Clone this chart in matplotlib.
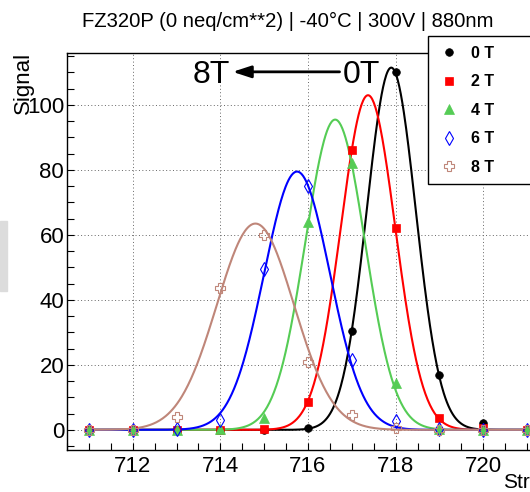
import numpy as np
import matplotlib
matplotlib.use("Agg")
import matplotlib.pyplot as plt
from matplotlib.patches import Rectangle

plt.rcParams['font.family'] = ['Liberation Sans', 'DejaVu Sans']

# strip positions and measured signal per field
strips = [711, 712, 713, 714, 715, 716, 717, 718, 719, 720, 721]
sig_0T = [0, 0, 0, 0, 0, 0.7, 30.3, 110, 17, 2, 0]
sig_2T = [0, 0, 0, 0, 0.3, 8.7, 86, 62, 3.7, 0.6, 0]
sig_4T = [0, 0, 0, 0.2, 3.8, 64, 82, 14.5, 0.3, 0, 0]
sig_6T = [0, 0, 0.3, 3, 49.5, 75, 21.6, 2.6, 0.3, 0, 0]
sig_8T = [0, 0, 4, 43.7, 60, 21, 4.7, 0.5, 0, 0, 0]

# gaussian fit parameters (amplitude, mean, sigma)
fit_amp = [111.5, 103, 95.5, 79.5, 63.5]
fit_mean = [717.9, 717.37, 716.62, 715.75, 714.8]
fit_sigma = [0.56, 0.62, 0.68, 0.75, 0.88]

labels = ["0 T", "2 T", "4 T", "6 T", "8 T"]
colors = ["black", "#ff0000", "#55cc55", "#0000ff", "#bf8679"]
markers = ["o", "s", "^", "d", "P"]
msizes = [5.5, 5.5, 6.5, 7, 7.5]
filled = [True, True, True, False, False]

title = "FZ320P (0 neq/cm**2) | -40\u00b0C | 300V | 880nm"

W, H = 530, 492
fig = plt.figure(figsize=(W / 100, H / 100), dpi=100)
ax = fig.add_axes([67 / W, 42 / H, (549 - 67) / W, 397 / H])

series = [sig_0T, sig_2T, sig_4T, sig_6T, sig_8T]
xf = np.linspace(711, 721.5, 600)
handles = []
for i, ys in enumerate(series):
    yf = fit_amp[i] * np.exp(-0.5 * ((xf - fit_mean[i]) / fit_sigma[i]) ** 2)
    ax.plot(xf, yf, color=colors[i], lw=1.5, zorder=3)
for i, ys in enumerate(series):
    mfc = colors[i] if filled[i] else "none"
    h, = ax.plot(strips, ys, ls="none", marker=markers[i], ms=msizes[i],
                 mfc=mfc, mec=colors[i], mew=0.8 if not filled[i] else 0.5,
                 color=colors[i], zorder=4, label=labels[i])
    handles.append(h)

ax.set_xlim(710.5, 721.5)
ax.set_ylim(-6.2, 116)
ax.set_xticks(np.arange(712, 722, 2))
ax.set_xticks(np.arange(710.5, 721.6, 0.5), minor=True)
ax.set_yticks(np.arange(0, 101, 20))
ax.set_yticks(np.arange(-5, 116, 5), minor=True)
ax.tick_params(which="both", direction="in", length=5, width=0.8,
               top=False, right=False, labelsize=16)
ax.tick_params(axis="x", pad=4)
ax.tick_params(axis="y", pad=2)
ax.grid(True, which="major", color="#666666", ls=(0, (1, 2.5)), lw=0.7)
ax.set_axisbelow(True)
for sp in ax.spines.values():
    sp.set_linewidth(1.0)

# 8T <- 0T annotation
ax.annotate("", xy=(714.28, 110.2), xytext=(716.72, 110.2),
            arrowprops=dict(arrowstyle="-|>,head_length=0.55,head_width=0.18",
                            color="black", lw=2, mutation_scale=20,
                            shrinkA=0, shrinkB=0))
ax.text(714.21, 106.8, "8T", fontsize=23, ha="right", va="baseline")
ax.text(716.79, 106.8, "0T", fontsize=23, ha="left", va="baseline")

leg = ax.legend(handles=handles, loc="upper left",
                bbox_to_anchor=(428 / W, 1 - 179 / H, 0.3, 143 / H),
                bbox_transform=fig.transFigure, mode="expand",
                prop={"weight": "bold", "size": 11.5},
                frameon=True, fancybox=False, framealpha=1,
                edgecolor="black", borderpad=0.6, handlelength=1.4,
                handletextpad=0.7, labelspacing=0.85, borderaxespad=0)
leg.get_frame().set_linewidth(1.0)
leg.set_zorder(10)

fig.text(82 / W, 1 - 27 / H, title, fontsize=14.6, va="baseline", ha="left")
fig.text(23 / W, 1 - 52 / H, "Signal", fontsize=16, rotation=90,
         ha="center", va="top")
fig.text(503 / W, 1 - 488 / H, "Strip", fontsize=15, ha="left", va="baseline")

fig.patches.append(Rectangle((0, 1 - 291 / H), 7 / W, 70 / H,
                             transform=fig.transFigure, color="#dcdcdc",
                             zorder=-1))

fig.savefig("out.png", dpi=100)
